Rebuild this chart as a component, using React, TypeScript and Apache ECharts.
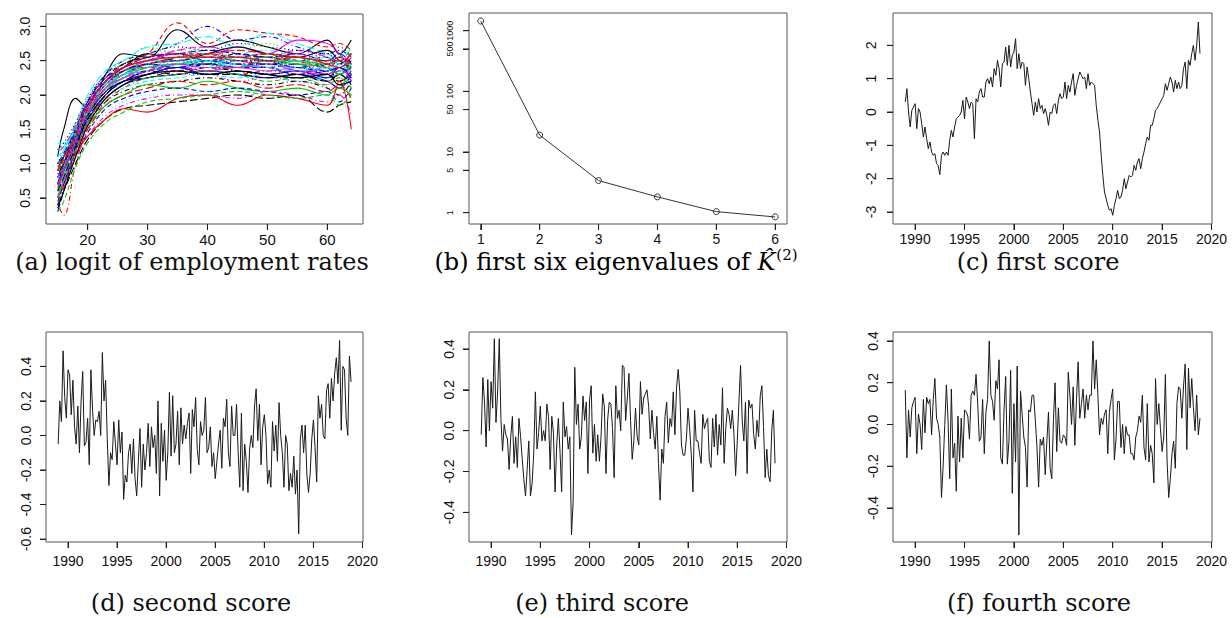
import React, { useEffect, useRef } from "react";
import * as echarts from "echarts";

// ---------- Panel (a): logit of employment rates by age ----------
const ages = [15, 16, 18, 20, 23, 26, 30, 35, 40, 45, 50, 55, 60, 62, 64];
const ageCurves: number[][] = [
  [1.1, 1.5, 1.95, 1.8, 2.3, 2.6, 2.55, 2.95, 2.7, 2.8, 2.7, 2.6, 2.8, 2.6, 2.8],
  [0.6, 0.9, 1.5, 1.9, 2.2, 2.45, 2.6, 3.05, 2.75, 2.95, 2.9, 2.85, 2.7, 2.75, 2.65],
  [0.4, 0.7, 1.2, 1.7, 2.1, 2.4, 2.7, 2.6, 2.7, 2.65, 2.75, 2.6, 2.55, 2.4, 2.5],
  [0.9, 1.1, 1.5, 1.9, 2.3, 2.5, 2.6, 2.75, 3.0, 2.8, 2.85, 2.7, 2.6, 2.65, 2.55],
  [1.3, 1.3, 1.6, 2.0, 2.35, 2.5, 2.7, 2.75, 2.85, 2.7, 2.9, 2.75, 2.6, 2.5, 2.7],
  [0.8, 1.0, 1.4, 1.8, 2.2, 2.4, 2.5, 2.6, 2.55, 2.7, 2.6, 2.8, 2.75, 2.6, 2.4],
  [0.5, 0.8, 1.3, 1.75, 2.1, 2.3, 2.45, 2.5, 2.55, 2.5, 2.45, 2.5, 2.4, 2.2, 2.3],
  [1.0, 1.2, 1.55, 1.9, 2.25, 2.35, 2.45, 2.4, 2.5, 2.45, 2.55, 2.45, 2.5, 2.6, 2.4],
  [0.7, 1.0, 1.45, 1.85, 2.15, 2.35, 2.4, 2.45, 2.4, 2.5, 2.45, 2.4, 2.45, 2.3, 2.5],
  [0.3, 0.6, 1.2, 1.6, 2.0, 2.2, 2.35, 2.45, 2.5, 2.45, 2.4, 2.45, 2.3, 2.4, 2.2],
  [1.2, 1.25, 1.5, 1.85, 2.15, 2.3, 2.5, 2.5, 2.6, 2.55, 2.5, 2.5, 2.45, 2.5, 2.35],
  [0.9, 1.1, 1.4, 1.75, 2.05, 2.3, 2.35, 2.55, 2.45, 2.4, 2.5, 2.35, 2.4, 2.55, 2.45],
  [0.6, 0.9, 1.35, 1.7, 2.0, 2.25, 2.3, 2.35, 2.45, 2.35, 2.3, 2.35, 2.25, 2.35, 2.2],
  [0.4, 0.25, 1.0, 1.5, 1.9, 2.1, 2.25, 2.3, 2.35, 2.3, 2.35, 2.3, 2.2, 2.3, 2.4],
  [1.0, 1.1, 1.4, 1.7, 2.05, 2.2, 2.3, 2.4, 2.3, 2.35, 2.3, 2.25, 2.3, 2.15, 2.3],
  [0.7, 0.95, 1.3, 1.65, 1.95, 2.15, 2.25, 2.3, 2.35, 2.3, 2.25, 2.3, 2.2, 2.1, 2.3],
  [0.5, 0.8, 1.25, 1.6, 1.95, 2.1, 2.2, 2.25, 2.3, 2.25, 2.3, 2.2, 2.25, 2.3, 2.1],
  [1.1, 1.2, 1.45, 1.8, 2.1, 2.25, 2.35, 2.3, 2.3, 2.2, 2.25, 2.2, 2.15, 2.25, 2.1],
  [0.8, 1.0, 1.3, 1.6, 1.9, 2.05, 2.15, 2.2, 2.25, 2.2, 2.15, 2.2, 2.1, 2.0, 2.2],
  [0.6, 0.85, 1.2, 1.5, 1.85, 2.0, 2.1, 2.2, 2.15, 2.2, 2.1, 2.15, 2.05, 2.15, 1.95],
  [0.9, 1.0, 1.25, 1.55, 1.85, 2.0, 2.15, 2.1, 2.2, 2.1, 2.05, 2.1, 2.0, 2.1, 2.0],
  [0.5, 0.7, 1.1, 1.45, 1.8, 1.95, 2.05, 2.1, 2.05, 2.1, 2.05, 2.0, 2.05, 1.9, 2.1],
  [1.4, 1.2, 1.3, 1.5, 1.75, 1.9, 2.0, 2.0, 2.05, 2.05, 2.0, 1.95, 2.0, 1.9, 1.8],
  [0.7, 0.8, 1.1, 1.4, 1.7, 1.85, 1.95, 2.0, 2.0, 1.95, 2.05, 2.0, 1.9, 2.0, 1.7],
  [0.4, 0.6, 1.0, 1.35, 1.65, 1.8, 1.85, 1.9, 1.95, 2.0, 1.95, 2.0, 1.75, 1.85, 1.9],
  [0.9, 0.9, 1.15, 1.4, 1.65, 1.8, 1.75, 1.95, 2.0, 1.85, 2.0, 1.95, 1.85, 2.2, 1.5],
  [0.3, 0.45, 0.95, 1.3, 1.6, 1.75, 1.9, 1.95, 2.0, 2.05, 2.0, 1.95, 2.0, 1.85, 2.0],
  [0.8, 1.0, 1.35, 1.7, 2.1, 2.35, 2.45, 2.55, 2.65, 2.55, 2.6, 2.5, 2.6, 2.45, 2.6],
  [1.0, 1.1, 1.4, 1.8, 2.2, 2.4, 2.55, 2.6, 2.55, 2.6, 2.65, 2.55, 2.5, 2.6, 2.3],
  [0.6, 0.9, 1.35, 1.75, 2.15, 2.35, 2.5, 2.65, 2.7, 2.6, 2.55, 2.65, 2.55, 2.45, 2.6],
  [0.9, 1.1, 1.5, 1.85, 2.2, 2.4, 2.6, 2.5, 2.6, 2.7, 2.6, 2.55, 2.65, 2.5, 2.4],
  [0.5, 0.7, 1.25, 1.7, 2.1, 2.3, 2.4, 2.35, 2.45, 2.4, 2.6, 2.5, 2.4, 2.5, 2.3],
  [1.1, 1.2, 1.55, 1.95, 2.3, 2.45, 2.55, 2.65, 2.6, 2.55, 2.6, 2.55, 2.5, 2.6, 2.7],
  [0.7, 0.9, 1.35, 1.8, 2.2, 2.3, 2.45, 2.4, 2.45, 2.55, 2.5, 2.4, 2.45, 2.4, 2.5],
  [0.8, 0.95, 1.3, 1.7, 2.05, 2.25, 2.4, 2.45, 2.5, 2.45, 2.4, 2.35, 2.4, 2.3, 2.45],
  [0.5, 0.75, 1.2, 1.6, 2.0, 2.2, 2.3, 2.4, 2.35, 2.4, 2.35, 2.4, 2.3, 2.4, 2.2],
  [0.7, 1.0, 1.45, 1.9, 2.25, 2.45, 2.55, 2.6, 2.5, 2.6, 2.55, 2.5, 2.55, 2.45, 2.6],
  [0.9, 1.05, 1.4, 1.8, 2.15, 2.35, 2.5, 2.45, 2.55, 2.5, 2.45, 2.55, 2.4, 2.5, 2.35],
  [0.5, 0.8, 1.3, 1.7, 2.05, 2.25, 2.4, 2.5, 2.45, 2.55, 2.5, 2.45, 2.5, 2.35, 2.55],
  [1.0, 1.15, 1.5, 1.9, 2.25, 2.4, 2.55, 2.6, 2.65, 2.6, 2.55, 2.6, 2.5, 2.6, 2.45],
  [0.6, 0.85, 1.3, 1.75, 2.1, 2.3, 2.35, 2.45, 2.5, 2.4, 2.45, 2.4, 2.35, 2.45, 2.3],
  [0.8, 1.0, 1.35, 1.75, 2.1, 2.25, 2.4, 2.4, 2.35, 2.45, 2.4, 2.3, 2.4, 2.3, 2.4],
  [1.2, 1.3, 1.6, 1.95, 2.3, 2.45, 2.6, 2.7, 2.65, 2.75, 2.7, 2.65, 2.6, 2.7, 2.55],
  [0.4, 0.65, 1.15, 1.6, 2.0, 2.2, 2.3, 2.35, 2.4, 2.35, 2.3, 2.35, 2.3, 2.2, 2.35],
  [0.9, 1.1, 1.45, 1.85, 2.2, 2.35, 2.5, 2.55, 2.6, 2.5, 2.55, 2.5, 2.45, 2.55, 2.6],
  [0.7, 0.9, 1.3, 1.7, 2.05, 2.2, 2.3, 2.4, 2.3, 2.35, 2.3, 2.35, 2.25, 2.4, 2.25],
  [1.1, 1.2, 1.5, 1.85, 2.2, 2.35, 2.45, 2.55, 2.5, 2.55, 2.6, 2.5, 2.55, 2.45, 2.5],
  [0.55, 0.85, 1.3, 1.7, 2.1, 2.3, 2.45, 2.5, 2.55, 2.5, 2.45, 2.45, 2.35, 2.45, 2.4],
  [0.85, 1.0, 1.35, 1.7, 2.05, 2.2, 2.35, 2.3, 2.4, 2.35, 2.3, 2.25, 2.3, 2.2, 2.3],
  [0.65, 0.9, 1.4, 1.8, 2.15, 2.35, 2.45, 2.55, 2.6, 2.65, 2.6, 2.55, 2.5, 2.55, 2.45],
  [1.0, 1.1, 1.4, 1.75, 2.1, 2.3, 2.4, 2.45, 2.45, 2.4, 2.5, 2.45, 2.4, 2.3, 2.45],
  [0.45, 0.7, 1.2, 1.65, 2.0, 2.2, 2.35, 2.4, 2.45, 2.4, 2.4, 2.3, 2.35, 2.4, 2.25],
  [0.75, 0.95, 1.35, 1.75, 2.1, 2.3, 2.4, 2.5, 2.5, 2.45, 2.35, 2.4, 2.35, 2.25, 2.4],
  [1.15, 1.25, 1.55, 1.9, 2.25, 2.4, 2.5, 2.6, 2.55, 2.5, 2.5, 2.6, 2.45, 2.55, 2.5],
  [0.6, 0.8, 1.25, 1.65, 2.0, 2.2, 2.25, 2.35, 2.3, 2.3, 2.25, 2.3, 2.2, 2.3, 2.15],
  [0.95, 1.1, 1.45, 1.85, 2.2, 2.4, 2.5, 2.55, 2.55, 2.55, 2.5, 2.55, 2.45, 2.4, 2.55],
  [0.5, 0.75, 1.2, 1.6, 1.95, 2.15, 2.25, 2.3, 2.35, 2.3, 2.2, 2.25, 2.15, 2.25, 2.1],
  [0.8, 1.0, 1.4, 1.8, 2.15, 2.35, 2.45, 2.5, 2.45, 2.5, 2.5, 2.4, 2.45, 2.55, 2.35],
  [1.05, 1.15, 1.45, 1.8, 2.15, 2.3, 2.4, 2.45, 2.4, 2.45, 2.4, 2.35, 2.4, 2.35, 2.45],
  [0.7, 0.9, 1.35, 1.75, 2.1, 2.25, 2.35, 2.45, 2.4, 2.4, 2.45, 2.35, 2.3, 2.35, 2.3],
  [0.35, 0.6, 1.1, 1.55, 1.95, 2.15, 2.3, 2.35, 2.3, 2.35, 2.3, 2.25, 2.3, 2.15, 2.2],
  [0.9, 1.05, 1.4, 1.8, 2.2, 2.4, 2.55, 2.6, 2.6, 2.55, 2.6, 2.55, 2.5, 2.5, 2.6],
  [0.6, 0.85, 1.3, 1.7, 2.05, 2.25, 2.4, 2.45, 2.5, 2.45, 2.4, 2.45, 2.4, 2.3, 2.4],
  [1.0, 1.1, 1.45, 1.85, 2.2, 2.35, 2.45, 2.4, 2.5, 2.45, 2.45, 2.4, 2.35, 2.4, 2.3],
];
const curveColors = ["#000000", "#FF0000", "#00CD00", "#0000FF", "#00FFFF", "#FF00FF"];
const curveDashes: any[] = ["solid", [5, 3], [1, 3], [1, 3, 5, 3], [8, 3]];
const ageTicks = [20, 30, 40, 50, 60];
const logitTicks = [0.5, 1.0, 1.5, 2.0, 2.5, 3.0];

// ---------- Panel (b): first six eigenvalues ----------
const eigIndex = [1, 2, 3, 4, 5, 6];
const eigValues = [1445, 19, 3.38, 1.82, 1.04, 0.85];
const eigTicks = [1, 5, 10, 50, 100, 500, 1000];

// ---------- Panels (c)-(f): monthly scores, sampled six times a year ----------
const startYear = 1989;
const perYear = 6;
const yearTicks = [1990, 1995, 2000, 2005, 2010, 2015, 2020];
const score1Ticks = [-3, -2, -1, 0, 1, 2];
const score2Ticks = [-0.6, -0.4, -0.2, 0, 0.2, 0.4];
const score34Ticks = [-0.4, -0.2, 0, 0.2, 0.4];

const score1 = [
  0.3, 0.7, 0.0, -0.45, 0.05, 0.15,
  0.25, -0.5, 0.1, 0.0, -0.35, -0.75,
  -0.45, -0.8, -1.1, -0.9, -1.2, -1.3,
  -1.25, -1.55, -1.6, -1.88, -1.3, -1.2,
  -1.3, -1.2, -1.3, -0.85, -0.55, -0.75,
  -0.45, -0.2, -0.15, -0.1, 0.0, 0.35,
  -0.2, 0.45, 0.3, 0.1, 0.3, 0.25,
  -0.8, 0.4, 0.3, 0.6, 0.7, 0.45,
  0.45, 0.9, 1.0, 0.85, 1.05, 0.75,
  1.3, 1.1, 1.55, 1.3, 0.75, 1.45,
  1.5, 1.95, 1.4, 2.0, 1.35, 1.7,
  1.8, 2.2, 1.3, 1.75, 1.3, 1.5,
  1.45, 0.8, 1.35, 1.0, 0.6, 0.25,
  -0.1, 0.3, 0.0, 0.4, 0.1, 0.2,
  -0.05, 0.1, -0.1, -0.4, 0.0, -0.05,
  0.2, 0.25, -0.05, 0.35, 0.55, 0.4,
  0.45, 0.9, 0.4, 0.8, 0.6, 0.9,
  1.15, 0.5, 0.8, 1.0, 1.2, 1.1,
  1.0, 1.05, 0.7, 1.15, 0.8, 0.9,
  0.85, 0.8, 0.2, -0.25, -0.6, -1.3,
  -1.9, -2.4, -2.6, -2.8, -2.95, -2.9,
  -3.1, -2.8, -2.6, -2.35, -2.6, -2.55,
  -2.35, -2.0, -2.3, -2.1, -1.9, -1.95,
  -1.9, -1.6, -1.75, -1.5, -1.4, -1.7,
  -1.4, -1.2, -0.95, -0.75, -0.85, -0.4,
  -0.4, -0.2, 0.05, 0.1, 0.2, 0.3,
  0.4, 0.5, 0.85, 0.65, 0.85, 1.05,
  0.9, 0.6, 0.95, 0.7, 0.9, 0.7,
  0.8, 1.3, 1.5, 0.7, 1.55, 1.4,
  1.75, 2.0, 1.55, 2.0, 2.7, 1.75,
];

const score2 = [
  -0.05, 0.2, 0.08, 0.49, 0.22, 0.1,
  0.38, 0.35, 0.12, 0.32, 0.05, -0.05,
  0.17, -0.1, 0.2, 0.37, -0.06, -0.04,
  0.1, -0.17, 0.38, 0.15, 0.0, 0.09,
  0.08, 0.14, 0.0, 0.48, 0.2, 0.32,
  -0.02, -0.29, -0.1, -0.14, 0.08, -0.05,
  -0.17, 0.09, -0.1, 0.02, -0.37, -0.23,
  -0.27, -0.1, -0.05, -0.22, -0.02, -0.25,
  -0.35, -0.15, 0.04, -0.3, -0.05, -0.2,
  -0.1, 0.07, -0.18, 0.05, -0.07, 0.0,
  -0.22, 0.2, -0.35, 0.07, -0.15, 0.03,
  -0.26, -0.1, 0.25, -0.12, 0.23, -0.1,
  -0.05, 0.14, -0.17, 0.16, -0.05, 0.06,
  -0.02, 0.07, 0.13, -0.22, 0.15, 0.05,
  0.22, -0.08, -0.17, 0.08, 0.0, 0.03,
  0.22, -0.1, -0.07, 0.05, -0.18, -0.1,
  -0.25, -0.15, -0.05, 0.03, -0.19, 0.1,
  0.05, 0.21, -0.1, -0.18, 0.17, 0.0,
  0.0, 0.18, -0.1, -0.3, 0.13, -0.32,
  -0.05, -0.15, -0.33, -0.08, 0.0, -0.07,
  0.17, 0.27, -0.03, 0.18, -0.17, 0.05,
  0.12, 0.0, -0.28, -0.2, -0.3, 0.08,
  -0.09, 0.06, -0.15, 0.19, 0.0, -0.1,
  -0.3, 0.0, -0.05, -0.32, -0.22, -0.3,
  -0.12, -0.34, -0.2, -0.57, -0.02, 0.06,
  -0.1, 0.06, -0.23, -0.33, -0.22, -0.02,
  0.09, -0.07, -0.27, 0.23, 0.1, 0.18,
  0.0, -0.02, 0.26, 0.3, 0.1, 0.33,
  0.2, 0.36, 0.45, 0.3, 0.55, 0.03,
  0.4, 0.38, 0.1, 0.0, 0.46, 0.31,
];

const score3 = [
  -0.02, 0.26, 0.14, -0.08, 0.25, 0.0,
  0.24, 0.11, 0.45, 0.04, 0.19, 0.45,
  0.06, -0.1, 0.03, -0.02, -0.04, -0.19,
  -0.03, 0.07, -0.16, -0.03, -0.18, 0.06,
  -0.03, -0.14, -0.24, -0.32, -0.19, -0.05,
  -0.32, -0.26, -0.11, 0.19, -0.09, -0.01,
  0.12, -0.05, 0.0, -0.05, 0.13, 0.07,
  -0.19, 0.07, -0.01, -0.3, -0.07, 0.06,
  -0.1, -0.3, 0.14, -0.03, 0.02, -0.09,
  -0.03, -0.51, -0.35, 0.31, 0.03, 0.13,
  -0.09, -0.03, 0.17, 0.05, 0.14, -0.21,
  0.15, 0.22, -0.11, 0.03, -0.15, -0.02,
  -0.15, -0.03, 0.18, 0.12, -0.21, 0.05,
  0.14, 0.13, 0.01, -0.23, 0.22, 0.06,
  0.1, 0.0, 0.32, 0.31, 0.05, 0.16,
  0.28, 0.05, -0.14, -0.05, 0.11, -0.03,
  -0.07, 0.24, 0.08, 0.16, 0.18, 0.2,
  0.12, -0.04, 0.1, -0.01, -0.09, 0.07,
  -0.16, -0.34, -0.09, -0.16, 0.07, 0.14,
  -0.06, 0.06, 0.02, 0.19, -0.02, 0.21,
  0.3, 0.19, -0.07, -0.12, -0.12, -0.04,
  0.11, 0.01, -0.12, -0.3, 0.1, -0.05,
  -0.05, -0.11, -0.16, 0.08, 0.01, 0.04,
  0.06, -0.15, -0.18, 0.06, -0.08, 0.08,
  -0.12, 0.03, -0.07, 0.21, -0.16, 0.01,
  0.11, 0.08, 0.01, 0.1, -0.02, -0.22,
  -0.05, 0.14, 0.32, 0.05, -0.05, 0.14,
  -0.21, 0.15, 0.11, 0.13, -0.02, -0.09,
  0.05, -0.03, 0.17, 0.22, 0.02, -0.23,
  -0.09, -0.22, -0.25, 0.0, 0.1, -0.16,
];

const score4 = [
  0.165, -0.16, 0.07, -0.06, 0.08, 0.11,
  0.13, -0.14, 0.05, 0.0, -0.12, 0.12,
  -0.04, 0.13, 0.1, 0.12, -0.05, 0.12,
  0.22, 0.03, 0.0, -0.06, -0.35, -0.2,
  0.0, 0.19, 0.02, -0.26, 0.17, -0.16,
  -0.09, -0.32, 0.04, -0.18, 0.03, -0.16,
  0.07, 0.06, 0.04, -0.07, 0.14, 0.16,
  0.14, 0.24, 0.1, -0.08, -0.06, 0.12,
  -0.14, 0.06, 0.12, 0.4, 0.14, 0.11,
  0.02, 0.21, 0.17, 0.31, -0.16, -0.19,
  0.07, 0.23, -0.19, -0.08, 0.26, -0.33,
  0.1, -0.18, 0.28, -0.53, 0.16, 0.05,
  -0.06, -0.11, -0.3, 0.07, 0.06, 0.14,
  0.14, 0.02, -0.11, -0.3, -0.07, -0.1,
  -0.06, -0.24, -0.08, 0.06, -0.21, -0.26,
  0.02, 0.2, -0.13, 0.08, -0.08, -0.09,
  -0.05, -0.06, -0.1, 0.25, 0.14, 0.0,
  0.18, -0.1, 0.12, 0.3, 0.03, 0.1,
  0.17, 0.03, 0.14, 0.07, 0.14, 0.14,
  0.4, 0.17, 0.31, 0.14, -0.05, 0.03,
  0.0, 0.05, 0.07, -0.14, 0.06, 0.12,
  0.17, -0.17, -0.07, 0.11, 0.11, -0.11,
  0.0, -0.14, -0.01, -0.05, -0.05, -0.14,
  -0.14, -0.17, -0.06, -0.03, 0.04, 0.01,
  0.14, -0.11, -0.17, 0.1, -0.18, -0.1,
  -0.14, -0.28, 0.22, 0.0, 0.1, -0.02,
  -0.13, -0.06, 0.24, -0.17, -0.35, -0.26,
  -0.14, -0.08, -0.21, 0.1, 0.18, 0.17,
  0.03, 0.18, 0.29, -0.12, 0.27, 0.08,
  0.22, 0.08, -0.03, 0.14, -0.05, 0.03,
];

const captions = [
  "(a) logit of employment rates",
  "(b) first six eigenvalues of ",
  "(c) first score",
  "(d) second score",
  "(e) third score",
  "(f) fourth score",
];

const TICK_COLOR = "#222";
const LABEL_FONT = "Liberation Sans";
const TICK_LEN = 6;

function makeX(gridIndex: number, min: number, max: number, ticks: number[], size: number, margin: number) {
  return {
    type: "value",
    gridIndex,
    min,
    max,
    position: "bottom",
    splitLine: { show: false },
    axisLine: { show: false, onZero: false },
    axisTick: { show: false },
    axisLabel: {
      customValues: ticks,
      fontFamily: LABEL_FONT,
      fontSize: size,
      color: "#111",
      margin,
      hideOverlap: false,
      formatter: (v: number) => String(v),
    },
  };
}

function makeY(gridIndex: number, min: number, max: number, ticks: number[], size: number, margin: number, fmt: (v: number) => string) {
  return {
    type: "value",
    gridIndex,
    min,
    max,
    position: "left",
    splitLine: { show: false },
    axisLine: { show: false, onZero: false },
    axisTick: { show: false },
    axisLabel: {
      customValues: ticks,
      rotate: 90,
      fontFamily: LABEL_FONT,
      fontSize: size,
      color: "#111",
      margin,
      hideOverlap: false,
      showMinLabel: true,
      showMaxLabel: true,
      formatter: fmt,
    },
  };
}

function timeData(values: number[]) {
  return values.map((v, i) => [startYear + i / perYear, v]);
}

export default function App() {
  const ref = useRef<HTMLDivElement>(null);
  useEffect(() => {
    if (!ref.current) return;
    const chart = echarts.init(ref.current, null, { renderer: "svg" });

    const gridBox = { show: true, borderColor: "#555", borderWidth: 1, backgroundColor: "transparent", containLabel: false };
    const grids = [
      { left: 46, top: 14, width: 317, height: 210, ...gridBox },
      { left: 469, top: 13, width: 318, height: 211, ...gridBox },
      { left: 893, top: 13, width: 319, height: 211, ...gridBox },
      { left: 46, top: 332, width: 317, height: 210, ...gridBox },
      { left: 469, top: 332, width: 318, height: 210, ...gridBox },
      { left: 893, top: 332, width: 319, height: 210, ...gridBox },
    ];

    const fmt1 = (v: number) => v.toFixed(1);
    const fmtInt = (v: number) => String(Math.round(v));
    const logTicks = eigTicks.map((t) => Math.log10(t));

    const xr = [
      [13.04, 65.96],
      [0.8, 6.2],
      [1987.76, 2020.05],
      [1987.76, 2020.05],
      [1987.76, 2020.05],
      [1987.76, 2020.05],
    ];
    const yr = [
      [0.12, 3.18],
      [-0.187, 3.292],
      [-3.36, 2.97],
      [-0.617, 0.599],
      [-0.545, 0.483],
      [-0.563, 0.443],
    ];
    const xTickSets = [ageTicks, eigIndex, yearTicks, yearTicks, yearTicks, yearTicks];
    const yTickSets = [logitTicks, logTicks, score1Ticks, score2Ticks, score34Ticks, score34Ticks];

    const xAxes = [
      makeX(0, xr[0][0], xr[0][1], ageTicks, 15, 8),
      makeX(1, xr[1][0], xr[1][1], eigIndex, 14, 8),
      makeX(2, xr[2][0], xr[2][1], yearTicks, 14, 8),
      makeX(3, xr[3][0], xr[3][1], yearTicks, 14, 12),
      makeX(4, xr[4][0], xr[4][1], yearTicks, 14, 12),
      makeX(5, xr[5][0], xr[5][1], yearTicks, 14, 12),
    ];
    const yAxes = [
      makeY(0, yr[0][0], yr[0][1], logitTicks, 14, 14, fmt1),
      makeY(1, yr[1][0], yr[1][1], logTicks, 9, 15, (v: number) => String(Math.round(Math.pow(10, v)))),
      makeY(2, yr[2][0], yr[2][1], score1Ticks, 14, 15, fmtInt),
      makeY(3, yr[3][0], yr[3][1], score2Ticks, 14, 13, fmt1),
      makeY(4, yr[4][0], yr[4][1], score34Ticks, 14, 13, fmt1),
      makeY(5, yr[5][0], yr[5][1], score34Ticks, 14, 13, fmt1),
    ];

    const series: any[] = [];
    ageCurves.forEach((curve, k) => {
      series.push({
        type: "line",
        xAxisIndex: 0,
        yAxisIndex: 0,
        data: curve.map((v, i) => [ages[i], v]),
        smooth: 0.4,
        showSymbol: false,
        silent: true,
        lineStyle: { color: curveColors[k % 6], width: 1.1, type: curveDashes[k % 5] },
      });
    });
    series.push({
      type: "line",
      xAxisIndex: 1,
      yAxisIndex: 1,
      data: eigValues.map((v, i) => [eigIndex[i], Math.log10(v)]),
      symbol: "circle",
      symbolSize: 6,
      showSymbol: true,
      itemStyle: { color: "rgba(255,255,255,0)", borderColor: "#333", borderWidth: 1 },
      lineStyle: { color: "#333", width: 1 },
    });
    [score1, score2, score3, score4].forEach((s, k) => {
      series.push({
        type: "line",
        xAxisIndex: k + 2,
        yAxisIndex: k + 2,
        data: timeData(s),
        showSymbol: false,
        silent: true,
        lineStyle: { color: "#1a1a1a", width: 1 },
      });
    });

    // Outward tick marks as unclipped 'lines' series in data space (tick length in axis units)
    for (let g = 0; g < 6; g++) {
      const gw = grids[g].width;
      const gh = grids[g].height;
      const dy = (TICK_LEN / gh) * (yr[g][1] - yr[g][0]);
      const dx = (TICK_LEN / gw) * (xr[g][1] - xr[g][0]);
      const segs: any[] = [];
      xTickSets[g].forEach((t) => segs.push({ coords: [[t, yr[g][0]], [t, yr[g][0] - dy]] }));
      yTickSets[g].forEach((t) => segs.push({ coords: [[xr[g][0], t], [xr[g][0] - dx, t]] }));
      series.push({
        type: "lines",
        coordinateSystem: "cartesian2d",
        xAxisIndex: g,
        yAxisIndex: g,
        clip: false,
        silent: true,
        polyline: false,
        symbol: "none",
        z: 20,
        lineStyle: { color: TICK_COLOR, width: 1, opacity: 1, curveness: 0 },
        data: segs,
      });
    }

    const capFont = { fontFamily: "DejaVu Serif", fontSize: 24, fill: "#111" };
    const capPos = [
      [192, 262],
      [616, 262],
      [1038, 262],
      [191, 603],
      [602, 603],
      [1039, 603],
    ];
    const graphic: any[] = captions.map((c, i) => {
      if (i === 1) {
        return {
          type: "text",
          x: capPos[i][0],
          y: capPos[i][1],
          style: {
            text: "{a|" + c + "}{k|K\u0302}{s|(2)}",
            textAlign: "center",
            textVerticalAlign: "middle",
            rich: {
              a: { fontFamily: "DejaVu Serif", fontSize: 24, color: "#111" },
              k: { fontFamily: "DejaVu Serif", fontStyle: "italic", fontSize: 24, color: "#111" },
              s: { fontFamily: "DejaVu Serif", fontSize: 15, color: "#111", padding: [0, 0, 14, 1] },
            },
          },
        };
      }
      return {
        type: "text",
        x: capPos[i][0],
        y: capPos[i][1],
        style: { text: c, textAlign: "center", textVerticalAlign: "middle", ...capFont },
      };
    });

    chart.setOption({
      animation: false,
      backgroundColor: "#ffffff",
      grid: grids,
      xAxis: xAxes,
      yAxis: yAxes,
      series,
      graphic,
    });

    // Additional tick marks placed through the library's convertToPixel (same scales)
    try {
      const ticksG: any[] = [];
      for (let g = 0; g < 6; g++) {
        xTickSets[g].forEach((t) => {
          const p = chart.convertToPixel({ gridIndex: g } as any, [t, yr[g][0]]) as any;
          if (p && isFinite(p[0]) && isFinite(p[1])) {
            ticksG.push({
              type: "line",
              silent: true,
              z: 100,
              shape: { x1: p[0], y1: p[1], x2: p[0], y2: p[1] + TICK_LEN },
              style: { stroke: TICK_COLOR, lineWidth: 1 },
            });
          }
        });
        yTickSets[g].forEach((t) => {
          const p = chart.convertToPixel({ gridIndex: g } as any, [xr[g][0], t]) as any;
          if (p && isFinite(p[0]) && isFinite(p[1])) {
            ticksG.push({
              type: "line",
              silent: true,
              z: 100,
              shape: { x1: p[0] - TICK_LEN, y1: p[1], x2: p[0], y2: p[1] },
              style: { stroke: TICK_COLOR, lineWidth: 1 },
            });
          }
        });
      }
      chart.setOption({ graphic: [...graphic, ...ticksG] });
    } catch (e) {
      // keep the chart as drawn
    }

    return () => chart.dispose();
  }, []);
  return <div ref={ref} style={{ position: "absolute", left: 0, top: 0, width: 1232, height: 618 }} />;
}
